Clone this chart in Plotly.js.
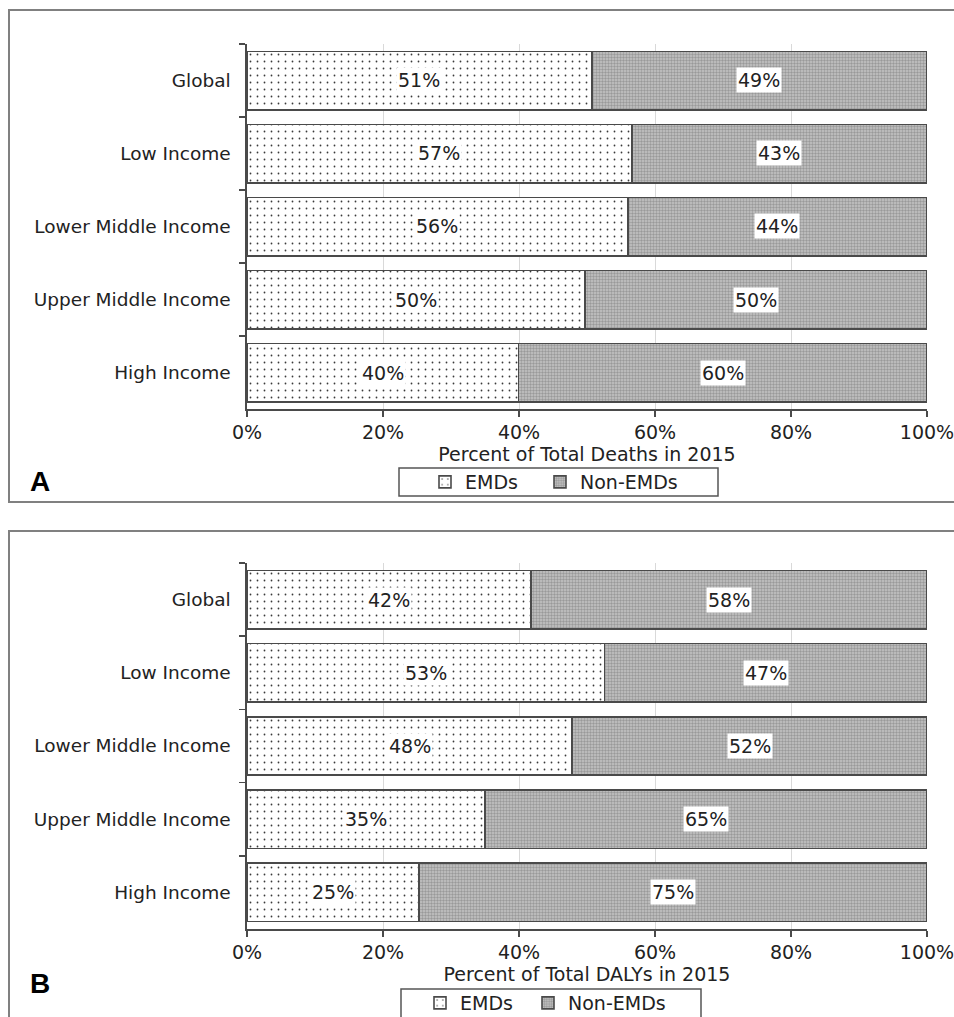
<!DOCTYPE html>
<html>
<head>
<meta charset="utf-8">
<script src="https://cdn.plot.ly/plotly-3.0.1.min.js"></script>
<style>html,body{margin:0;padding:0;background:#fff;}#chart{width:954px;height:1017px;}</style>
</head>
<body>
<div id="chart"></div>
<script>
// ---- data ----
const categories = ['Global', 'Low Income', 'Lower Middle Income', 'Upper Middle Income', 'High Income'];
const deathsEMD = [50.7, 56.6, 56.0, 49.7, 39.9];
const deathsNonEMD = [49.3, 43.4, 44.0, 50.3, 60.1];
const dalysEMD = [41.8, 52.6, 47.8, 35.0, 25.3];
const dalysNonEMD = [58.2, 47.4, 52.2, 65.0, 74.7];
const seriesNames = ['EMDs', 'Non-EMDs'];
const xTickVals = [0, 20, 40, 60, 80, 100];
const xTickText = ['0%', '20%', '40%', '60%', '80%', '100%'];
const xTitleA = 'Percent of Total Deaths in 2015';
const xTitleB = 'Percent of Total DALYs in 2015';
const panelLabels = ['A', 'B'];

// ---- styles ----
const FONT = 'DejaVu Sans, Verdana, sans-serif';
const TXT = '#222';
const W = 954, H = 1017;
const px = v => v / W;
const py = v => (H - v) / H;

const emdMarker = {
  color: '#ffffff',
  pattern: {shape: '.', size: 7, solidity: 0.05, fgcolor: '#3a3a3a', bgcolor: '#ffffff', fillmode: 'replace'},
  line: {color: '#4a4a4a', width: 1.6}
};
const nonMarker = {
  color: '#b8b8b8',
  pattern: {shape: '.', size: 3, solidity: 0.5, fgcolor: '#999999', bgcolor: '#c6c6c6', fillmode: 'replace'},
  line: {color: '#4a4a4a', width: 1.6}
};

function traces(emd, non, xa, ya, legE, legN) {
  return [
    {type: 'bar', orientation: 'h', name: seriesNames[0], x: emd, y: categories,
     xaxis: xa, yaxis: ya, legend: legE, marker: emdMarker, hoverinfo: 'x+y'},
    {type: 'bar', orientation: 'h', name: seriesNames[1], x: non, y: categories,
     xaxis: xa, yaxis: ya, legend: legN, marker: nonMarker, hoverinfo: 'x+y'}
  ];
}

function labels(emd, non, xr, yr) {
  const out = [];
  categories.forEach((c, i) => {
    out.push({xref: xr, yref: yr, x: emd[i] / 2, y: c, text: Math.round(emd[i]) + '%',
      showarrow: false, font: {family: FONT, size: 19, color: TXT}, bgcolor: '#ffffff', borderpad: 1});
    out.push({xref: xr, yref: yr, x: emd[i] + non[i] / 2, y: c, text: Math.round(non[i]) + '%',
      showarrow: false, font: {family: FONT, size: 19, color: TXT}, bgcolor: '#ffffff', borderpad: 1});
  });
  return out;
}

const data = [].concat(
  traces(deathsEMD, deathsNonEMD, 'x', 'y', 'legend', 'legend2'),
  traces(dalysEMD, dalysNonEMD, 'x2', 'y2', 'legend3', 'legend4')
);

function xAxis(title, dom, anchor) {
  return {
    domain: dom, anchor: anchor, range: [0, 100], tickmode: 'array', tickvals: xTickVals, ticktext: xTickText,
    ticklabeloverflow: 'allow',
    showgrid: true, gridcolor: '#d9d9d9', gridwidth: 1,
    showline: true, linecolor: '#4a4a4a', linewidth: 1.6,
    ticks: 'outside', ticklen: 6, tickcolor: '#4a4a4a', tickwidth: 1.6,
    tickfont: {family: FONT, size: 19, color: TXT},
    zeroline: false, fixedrange: true,
    title: {text: title, font: {family: FONT, size: 19, color: TXT}, standoff: 0}
  };
}
function yAxis(dom, anchor) {
  return {
    domain: dom, anchor: anchor, type: 'category', autorange: 'reversed',
    showline: true, linecolor: '#4a4a4a', linewidth: 1.6,
    ticks: 'outside', tickson: 'boundaries', ticklen: 6, tickcolor: '#4a4a4a', tickwidth: 1.6,
    ticklabelstandoff: 11,
    tickfont: {family: FONT, size: 18.5, color: TXT},
    showgrid: false, zeroline: false, fixedrange: true
  };
}

const xDom = [px(247), px(927)];
const legendCommon = {orientation: 'h', xanchor: 'left', yanchor: 'middle',
  bgcolor: 'rgba(0,0,0,0)', borderwidth: 0,
  font: {family: FONT, size: 19, color: TXT}};
const layout = {
  width: W, height: H,
  margin: {l: 0, r: 0, t: 0, b: 0, autoexpand: false},
  paper_bgcolor: '#ffffff', plot_bgcolor: '#ffffff',
  barmode: 'stack', bargap: 0.2,
  showlegend: true,
  xaxis: xAxis(xTitleA, xDom, 'y'),
  yaxis: yAxis([py(409), py(44)], 'x'),
  xaxis2: xAxis(xTitleB, xDom, 'y2'),
  yaxis2: yAxis([py(929), py(563)], 'x2'),
  legend: Object.assign({}, legendCommon, {x: px(425), y: py(482)}),
  legend2: Object.assign({}, legendCommon, {x: px(540), y: py(482)}),
  legend3: Object.assign({}, legendCommon, {x: px(420), y: py(1003)}),
  legend4: Object.assign({}, legendCommon, {x: px(528), y: py(1003)}),
  shapes: [
    {type: 'rect', xref: 'paper', yref: 'paper', x0: px(9), x1: px(970), y0: py(502), y1: py(10),
     line: {color: '#808080', width: 2}, layer: 'below'},
    {type: 'rect', xref: 'paper', yref: 'paper', x0: px(9), x1: px(970), y0: py(1040), y1: py(531),
     line: {color: '#808080', width: 2}, layer: 'below'},
    {type: 'rect', xref: 'paper', yref: 'paper', x0: px(399), x1: px(718), y0: py(496), y1: py(468),
     line: {color: '#555555', width: 1.5}},
    {type: 'rect', xref: 'paper', yref: 'paper', x0: px(401), x1: px(701), y0: py(1030), y1: py(989),
     line: {color: '#555555', width: 1.5}}
  ],
  annotations: [].concat(
    labels(deathsEMD, deathsNonEMD, 'x', 'y'),
    labels(dalysEMD, dalysNonEMD, 'x2', 'y2'),
    [
      {xref: 'paper', yref: 'paper', x: px(28), y: py(482), text: '<b>' + panelLabels[0] + '</b>', showarrow: false,
       font: {family: 'Liberation Sans, Arial, sans-serif', size: 28, color: '#000'}},
      {xref: 'paper', yref: 'paper', x: px(28), y: py(1001), text: '<b>' + panelLabels[1] + '</b>', showarrow: false,
       font: {family: 'Liberation Sans, Arial, sans-serif', size: 28, color: '#000'}}
    ]
  )
};

Plotly.newPlot('chart', data, layout, {displayModeBar: false, staticPlot: true});
</script>
</body>
</html>
